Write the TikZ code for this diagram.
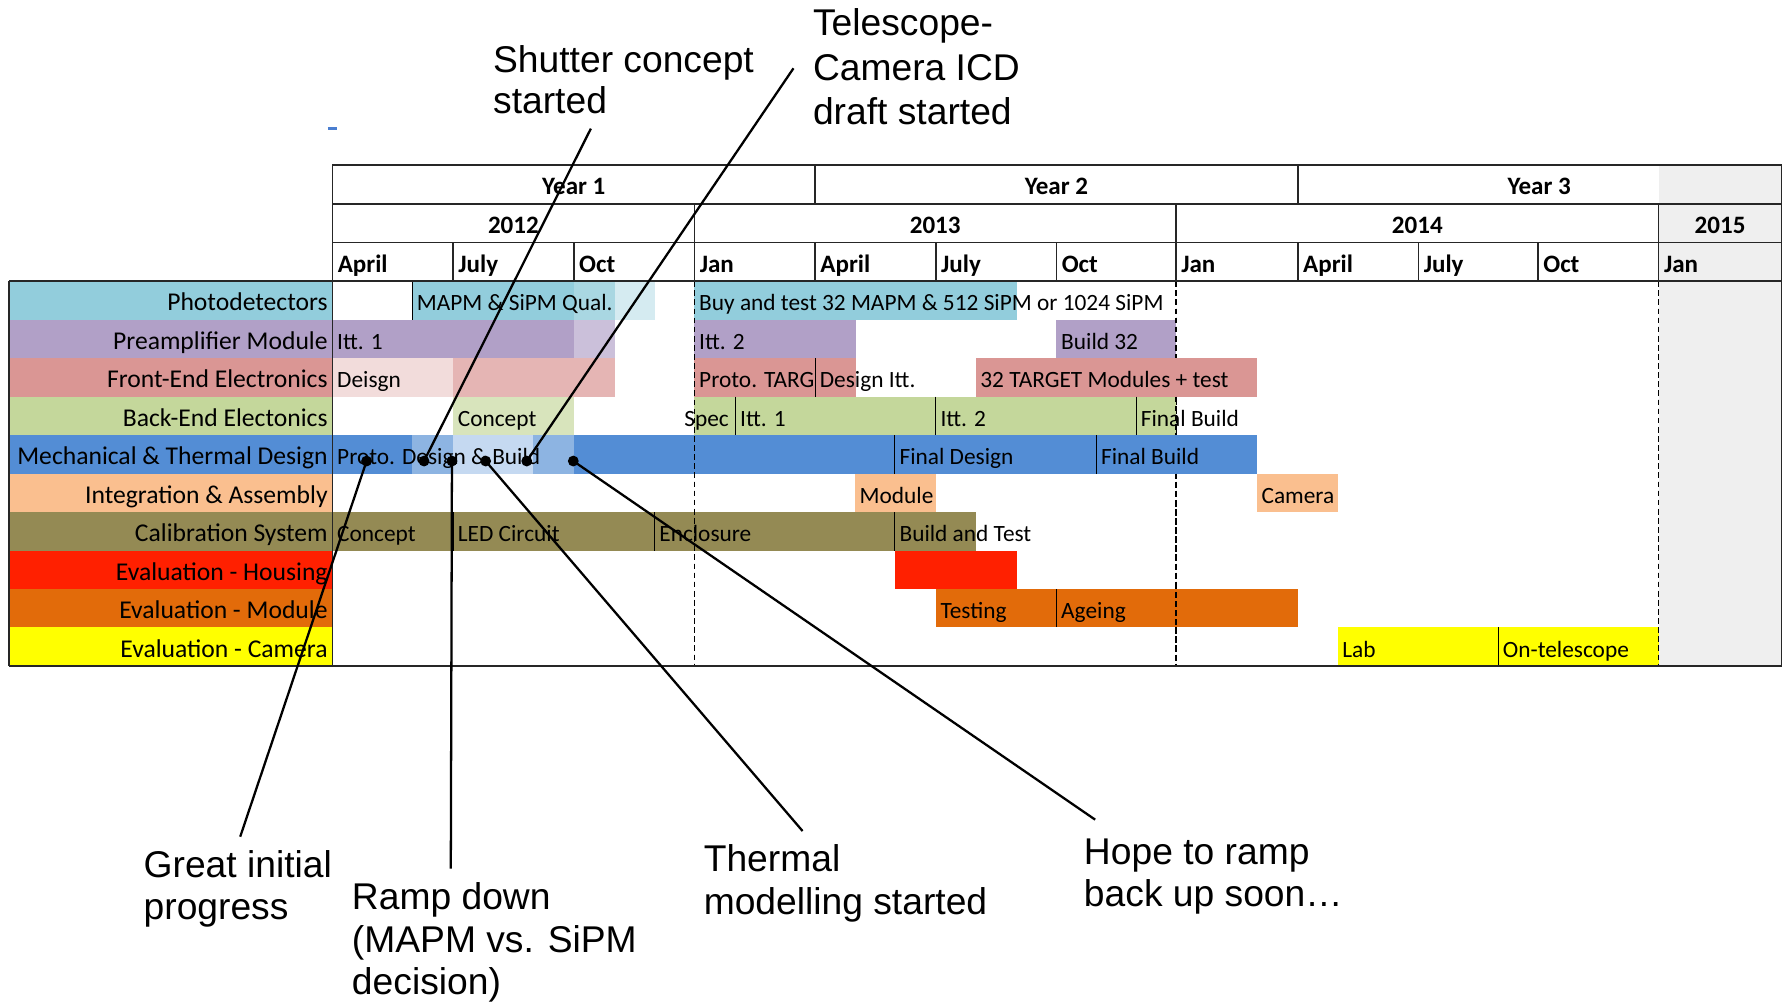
\documentclass[tikz,border=0pt]{standalone}
\usepackage{fontspec}
\setmainfont{Carlito}
\newfontfamily\annfont{Liberation Sans}
\definecolor{pdet}{HTML}{92CDDC}
\definecolor{pdetM}{HTML}{A9D7E2}
\definecolor{pdetL}{HTML}{D5EBF1}
\definecolor{preamp}{HTML}{B1A0C7}
\definecolor{preampL}{HTML}{CBC0DA}
\definecolor{fee}{HTML}{DA9694}
\definecolor{feeL}{HTML}{E5B5B4}
\definecolor{feeLL}{HTML}{F2DCDB}
\definecolor{bee}{HTML}{C4D79B}
\definecolor{beeL}{HTML}{D8E4BC}
\definecolor{mech}{HTML}{538DD5}
\definecolor{mechM}{HTML}{8DB4E2}
\definecolor{mechL}{HTML}{C5D9F1}
\definecolor{integ}{HTML}{FABF8F}
\definecolor{calib}{HTML}{948A54}
\definecolor{hous}{HTML}{FF2000}
\definecolor{modc}{HTML}{E26B0A}
\definecolor{camc}{HTML}{FFFF00}
\definecolor{grayc}{HTML}{EFEFEF}
\definecolor{tickblue}{HTML}{4A7ED0}
\begin{document}
\begin{tikzpicture}[x=1pt,y=-1pt,
  lbl/.style={font=\fontsize{22.5}{24}\selectfont, inner sep=0pt, anchor=base east},
  bartxt/.style={font=\fontsize{20.5}{24}\selectfont, inner sep=0pt, anchor=base west},
  hdr/.style={font=\bfseries\fontsize{22}{24}\selectfont, inner sep=0pt, anchor=base},
  mon/.style={font=\bfseries\fontsize{22}{24}\selectfont, inner sep=0pt, anchor=base west},
  ann/.style={font=\annfont\fontsize{32.7}{38}\selectfont, inner sep=0pt, anchor=base west},
  gridline/.style={line width=1.4pt, draw=black!85},
  sepline/.style={line width=1pt, draw=black},
  dline/.style={line width=1.1pt, dash pattern=on 5pt off 3pt, draw=black},
  conn/.style={line width=2pt, draw=black},
  dotn/.style={circle, fill=black, inner sep=0pt, minimum size=9.5pt},
]
\useasboundingbox (0,0) rectangle (1568,880);
\fill[white] (0,0) rectangle (1568,880);

% gray 2015 area
\fill[grayc] (1457,145) rectangle (1565,585);

% label cells
\fill[pdet]   (8,247)   rectangle (292,280.8);
\fill[preamp] (8,280.8) rectangle (292,314.6);
\fill[fee]    (8,314.6) rectangle (292,348.4);
\fill[bee]    (8,348.4) rectangle (292,382.2);
\fill[mech]   (8,382.2) rectangle (292,416);
\fill[integ]  (8,416)   rectangle (292,449.8);
\fill[calib]  (8,449.8) rectangle (292,483.6);
\fill[hous]   (8,483.6) rectangle (292,517.4);
\fill[modc]   (8,517.4) rectangle (292,551.2);
\fill[camc]   (8,551.2) rectangle (292,585);

% dashed year boundaries (under bars)
\draw[dline] (610,247) -- (610,585);
\draw[dline] (1033,247) -- (1033,585);
\draw[dline] (1457,247) -- (1457,585);

% row 1 Photodetectors
\fill[pdet]  (362,247) rectangle (504,280.8);
\fill[pdetM] (504,247) rectangle (540,280.8);
\fill[pdetL] (540,247) rectangle (575,280.8);
\fill[pdet]  (610,247) rectangle (893,280.8);
\draw[sepline] (362,247) -- (362,281.5);
% row 2 Preamplifier
\fill[preamp]  (292,280.8) rectangle (504,314.6);
\fill[preampL] (504,280.8) rectangle (540,314.6);
\fill[preamp]  (610,280.8) rectangle (752,314.6);
\fill[preamp]  (928,280.8) rectangle (1033,314.6);
% row 3 Front-End
\fill[feeLL] (292,314.6) rectangle (398,348.4);
\fill[feeL]  (398,314.6) rectangle (540,348.4);
\fill[fee]   (610,314.6) rectangle (752,348.4);
\fill[fee]   (857,314.6) rectangle (1104,348.4);
\draw[sepline] (716,314.6) -- (716,348.4);
% row 4 Back-End
\fill[beeL] (398,348.4) rectangle (504,382.2);
\fill[bee]  (610,348.4) rectangle (1033,382.2);
\draw[sepline] (646,348.4) -- (646,382.2);
\draw[sepline] (822,348.4) -- (822,382.2);
\draw[sepline] (998,348.4) -- (998,382.2);
% row 5 Mechanical
\fill[mech]  (292,382.2) rectangle (362,416);
\fill[mechM] (362,382.2) rectangle (398,416);
\fill[mechL] (398,382.2) rectangle (468,416);
\fill[mechM] (468,382.2) rectangle (504,416);
\fill[mech]  (504,382.2) rectangle (1104,416);
\draw[sepline] (786,382.2) -- (786,416);
\draw[sepline] (963,382.2) -- (963,416);
% row 6 Integration
\fill[integ] (751,416) rectangle (822,449.8);
\fill[integ] (1104,416) rectangle (1175,449.8);
% row 7 Calibration
\fill[calib] (292,449.8) rectangle (857,483.6);
\draw[sepline] (398,449.8) -- (398,483.6);
\draw[sepline] (575,449.8) -- (575,483.6);
\draw[sepline] (786,449.8) -- (786,483.6);
% row 8 Housing
\fill[hous] (786,483.6) rectangle (893,517.4);
% row 9 Module
\fill[modc] (822,517.4) rectangle (1140,551.2);
\draw[sepline] (928,517.4) -- (928,551.2);
% row 10 Camera
\fill[camc] (1175,551.2) rectangle (1457,585);
\draw[sepline] (1316,551.2) -- (1316,585);

% dashed lines visible over bars
\draw[dline] (610,247) -- (610,585);
\draw[dline] (1033,247) -- (1033,314.6);
\draw[dline] (1033,348.4) -- (1033,382.2);
\draw[dline] (1033,416) -- (1033,585);
\draw[dline] (1457,247) -- (1457,585);

% grid of header and frame
\draw[gridline] (292,145) -- (1565,145);
\draw[gridline] (292,179) -- (1565,179);
\draw[gridline] (292,213) -- (1565,213);
\draw[gridline] (8,247) -- (1565,247);
\draw[gridline] (8,585) -- (1565,585);
\draw[gridline] (8,247) -- (8,585);
\draw[gridline] (292,145) -- (292,585);
\draw[gridline] (1565,145) -- (1565,585);
\draw[gridline] (716,145) -- (716,179);
\draw[gridline] (1140,145) -- (1140,179);
\draw[gridline] (610,179) -- (610,213);
\draw[gridline] (1033,179) -- (1033,213);
\draw[gridline] (1457,179) -- (1457,213);
\foreach \q in {398,504,610,716,822,928,1033,1140,1246,1351,1457}
  \draw[gridline] (\q,213) -- (\q,247);

% header texts
\node[hdr] (y1) at (504,171) {Year 1};
\node[hdr] (y2) at (928,171) {Year 2};
\node[hdr] (y3) at (1352,171) {Year 3};
\node[hdr] (c12) at (451,205) {2012};
\node[hdr] (c13) at (821.5,205) {2013};
\node[hdr] (c14) at (1245,205) {2014};
\node[hdr] (c15) at (1511,205) {2015};
\node[mon] (m1) at (296.5,239) {April};
\node[mon] (m2) at (402.5,239) {July};
\node[mon] (m3) at (508.5,239) {Oct};
\node[mon] (m4) at (614.5,239) {Jan};
\node[mon] (m5) at (720.5,239) {April};
\node[mon] (m6) at (826.5,239) {July};
\node[mon] (m7) at (932.5,239) {Oct};
\node[mon] (m8) at (1037.5,239) {Jan};
\node[mon] (m9) at (1144.5,239) {April};
\node[mon] (m10) at (1250.5,239) {July};
\node[mon] (m11) at (1355.5,239) {Oct};
\node[mon] (m12) at (1461.5,239) {Jan};

% row labels
\node[lbl] (l1) at (288,273) {Photodetectors};
\node[lbl] (l2) at (288,306.8) {Preamplifier Module};
\node[lbl] (l3) at (288,340.6) {Front-End Electronics};
\node[lbl] (l4) at (288,374.4) {Back-End Electonics};
\node[lbl] (l5) at (288,408.2) {Mechanical \& Thermal Design};
\node[lbl] (l6) at (288,442) {Integration \& Assembly};
\node[lbl] (l7) at (288,475.8) {Calibration System};
\node[lbl] (l8) at (288,509.6) {Evaluation - Housing};
\node[lbl] (l9) at (288,543.4) {Evaluation - Module};
\node[lbl] (l10) at (288,577.2) {Evaluation - Camera};

% bar texts
\node[bartxt] (t1a) at (366,273) {MAPM \& SiPM Qual.};
\node[bartxt] (t1b) at (614,273) {Buy and test 32 MAPM \& 512 SiPM or 1024 SiPM};
\node[bartxt] (t2a) at (296,306.8) {Itt. 1};
\node[bartxt] (t2b) at (614,306.8) {Itt. 2};
\node[bartxt] (t2c) at (932,306.8) {Build 32};
\node[bartxt] (t3a) at (296,340.6) {Deisgn};
\node[bartxt] (t3b) at (614,340.6) {Proto. TARG};
\node[bartxt] (t3c) at (720,340.6) {Design Itt.};
\node[bartxt] (t3d) at (861,340.6) {32 TARGET Modules + test};
\node[bartxt] (t4a) at (402,374.4) {Concept};
\node[bartxt] (t4b) at (601,374.4) {Spec};
\node[bartxt] (t4c) at (650,374.4) {Itt. 1};
\node[bartxt] (t4d) at (826,374.4) {Itt. 2};
\node[bartxt] (t4e) at (1002,374.4) {Final Build};
\node[bartxt] (t5a) at (296,408.2) {Proto. Design \& Build};
\node[bartxt] (t5b) at (790,408.2) {Final Design};
\node[bartxt] (t5c) at (967,408.2) {Final Build};
\node[bartxt] (t6a) at (755,442) {Module};
\node[bartxt] (t6b) at (1108,442) {Camera};
\node[bartxt] (t7a) at (296,475.8) {Concept};
\node[bartxt] (t7b) at (402,475.8) {LED Circuit};
\node[bartxt] (t7c) at (579,475.8) {Enclosure};
\node[bartxt] (t7d) at (790,475.8) {Build and Test};
\node[bartxt] (t9a) at (826,543.4) {Testing};
\node[bartxt] (t9b) at (932,543.4) {Ageing};
\node[bartxt] (t10a) at (1179,577.2) {Lab};
\node[bartxt] (t10b) at (1320,577.2) {On-telescope};

% small blue tick
\draw[tickblue, line width=2.5pt] (288,113) -- (296,113);

% annotation dots
\node[dotn] (dA) at (322,405) {};
\node[dotn] (dB) at (372.5,405) {};
\node[dotn] (dC) at (397,405) {};
\node[dotn] (dD) at (426.6,405) {};
\node[dotn] (dE) at (462.7,405) {};
\node[dotn] (dF) at (503.6,405) {};

% annotation texts
\node[ann] (aS1) at (433,63.5) {Shutter concept};
\node[ann] (aS2) at (433,100) {started};
\node[ann] (aT1) at (714,31.5) {Telescope-};
\node[ann] (aT2) at (714,70.5) {Camera ICD};
\node[ann] (aT3) at (714,109.5) {draft started};
\node[ann] (aG1) at (126,770.5) {Great initial};
\node[ann] (aG2) at (126,807.5) {progress};
\node[ann] (aR1) at (309,798.5) {Ramp down};
\node[ann] (aR2) at (309,836.5) {(MAPM vs. SiPM};
\node[ann] (aR3) at (309,873.5) {decision)};
\node[ann] (aH1) at (618,765.5) {Thermal};
\node[ann] (aH2) at (618,803.5) {modelling started};
\node[ann] (aU1) at (952,759.5) {Hope to ramp};
\node[ann] (aU2) at (952,796.5) {back up soon…};

% connector free ends
\coordinate (eS) at (519,113);
\coordinate (eT) at (697,60);
\coordinate (eG) at (211,735);
\coordinate (eR) at (396,763);
\coordinate (eH) at (705,730);
\coordinate (eU) at (962,720);

\draw[conn] (eS) -- (dB.center);
\draw[conn] (eT) -- (dE.center);
\draw[conn] (eG) -- (dA.center);
\draw[conn] (eR) -- (dC.center);
\draw[conn] (eH) -- (dD.center);
\draw[conn] (eU) -- (dF.center);
\end{tikzpicture}
\end{document}
